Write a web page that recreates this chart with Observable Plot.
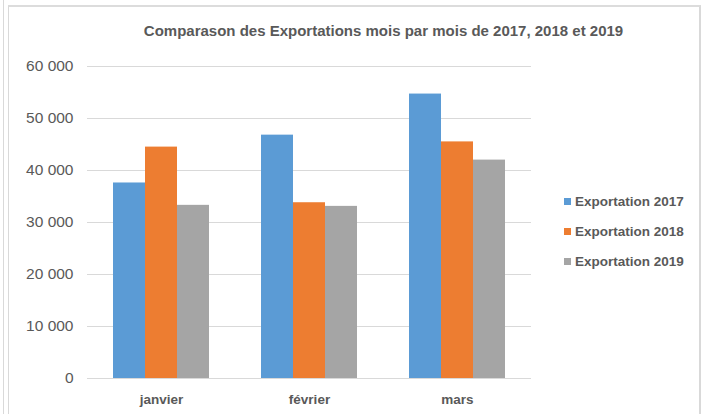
<!DOCTYPE html>
<html>
<head>
<meta charset="utf-8">
<script src="https://cdn.jsdelivr.net/npm/d3@7"></script>
<script src="https://cdn.jsdelivr.net/npm/@observablehq/plot@0.6"></script>
<style>
  html, body { margin: 0; padding: 0; background: #fff; }
  #wrap { position: relative; width: 707px; height: 414px; overflow: hidden; background: #fff; font-family: "Liberation Sans", Arial, sans-serif; color: #595959; }
  #outer-line { position: absolute; left: 3px; top: 0; width: 1px; height: 414px; background: #d9d9d9; }
  #frame { position: absolute; left: 8px; top: 5px; width: 693px; height: 420px; border-left: 1px solid #d9d9d9; border-top: 2px solid #dcdcdc; border-right: 2px solid #d9d9d9; box-sizing: border-box; }
  #chart { position: absolute; left: 0; top: 0; }
  #title { position: absolute; left: 0; width: 767px; top: 22px; text-align: center; font-weight: bold; font-size: 15px; color: #595959; white-space: nowrap; }
  #legend { position: absolute; left: 564px; top: 192px; }
  .item { height: 30px; line-height: 20px; font-size: 13.5px; font-weight: bold; color: #595959; white-space: nowrap; }
  .sw { display: inline-block; width: 7px; height: 7px; margin-right: 4px; vertical-align: 1px; }
  #chart [aria-label^="fx-axis"] text { font-weight: bold; font-size: 13.5px; }
  #chart [aria-label^="y-axis"] text { font-size: 15.5px; }
</style>
</head>
<body>
<div id="wrap">
  <div id="outer-line"></div>
  <div id="frame"></div>
  <div id="chart"></div>
  <div id="title"></div>
  <div id="legend"></div>
</div>
<script>
const titleText = "Comparason des Exportations mois par mois de 2017, 2018 et 2019";
const months = ["janvier", "février", "mars"];
const series = ["Exportation 2017", "Exportation 2018", "Exportation 2019"];
const exp2017 = [37600, 46800, 54700];
const exp2018 = [44500, 33800, 45500];
const exp2019 = [33300, 33100, 42000];
const colors = ["#5B9BD5", "#ED7D31", "#A5A5A5"];
const yTicks = [0, 10000, 20000, 30000, 40000, 50000, 60000];

const seriesValues = [exp2017, exp2018, exp2019];
const data = months.flatMap((m, i) =>
  seriesValues.map((arr, j) => ({ month: m, series: series[j], value: arr[i] }))
);

const fmt = d => d3.format(",")(d).replace(/,/g, "\u00a0");

const chart = Plot.plot({
  width: 707,
  height: 414,
  marginLeft: 86,
  marginRight: 175,
  marginTop: 66,
  marginBottom: 36,
  style: { fontFamily: "Liberation Sans, Arial, sans-serif", color: "#595959", background: "transparent", overflow: "visible" },
  fx: { domain: months, padding: 0, axis: "bottom", tickSize: 0, tickPadding: 16, label: null },
  x: { domain: series, paddingInner: 0, paddingOuter: 0.76, axis: null },
  y: { domain: [0, 60000], ticks: yTicks, tickSize: 0, tickPadding: 14, tickFormat: fmt, label: null, grid: false },
  color: { domain: series, range: colors },
  marks: [
    Plot.ruleY(yTicks, { stroke: "#D9D9D9", strokeWidth: 1 }),
    Plot.barY(data, { fx: "month", x: "series", y: "value", fill: "series" })
  ]
});
document.getElementById("chart").appendChild(chart);
document.getElementById("title").textContent = titleText;

const legend = document.getElementById("legend");
series.forEach((s, i) => {
  const row = document.createElement("div");
  row.className = "item";
  const sw = document.createElement("span");
  sw.className = "sw";
  sw.style.background = colors[i];
  row.appendChild(sw);
  row.appendChild(document.createTextNode(s));
  legend.appendChild(row);
});
</script>
</body>
</html>
